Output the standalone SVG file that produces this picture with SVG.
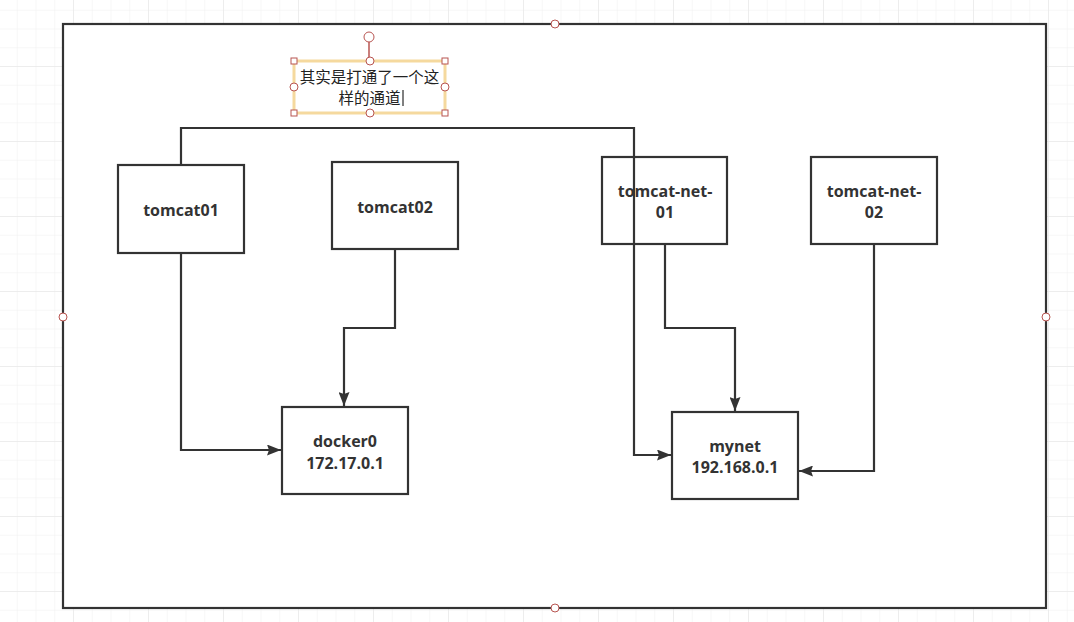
<svg xmlns="http://www.w3.org/2000/svg" width="1074" height="622" viewBox="0 0 1074 622">
<defs>
<pattern id="minor" x="-2" y="9.75" width="18.75" height="18.75" patternUnits="userSpaceOnUse">
<path d="M0 0H18.75M0 0V18.75" fill="none" stroke="#efefef" stroke-width="1"/>
</pattern>
<pattern id="major" x="-2" y="-9" width="75" height="75" patternUnits="userSpaceOnUse">
<path d="M0 0H75M0 0V75" fill="none" stroke="#e4e4e4" stroke-width="1"/>
</pattern>
<marker id="arr" viewBox="0 0 14 11" refX="14" refY="5.5" markerWidth="14" markerHeight="11" markerUnits="userSpaceOnUse" orient="auto">
<path d="M0 0L14 5.5L0 11L2 5.5Z" fill="#333"/>
</marker>
</defs>
<style>
.node rect{fill:#fff;stroke:#333;stroke-width:2.2}
.node text{font-family:"Open Sans","Noto Sans",sans-serif;font-weight:bold;font-size:16px;fill:#333;text-anchor:middle}
.conn path{fill:none;stroke:#333;stroke-width:2.2;marker-end:url(#arr)}
.h{fill:#fff;stroke:#b85450;stroke-width:1}
.cjk{font-family:"Noto Sans CJK SC",sans-serif;font-size:15.5px;fill:#222;text-anchor:middle}
</style>
<rect width="1074" height="622" fill="#fff"/>
<rect width="1074" height="622" fill="url(#minor)"/>
<rect width="1074" height="622" fill="url(#major)"/>
<g id="frame">
<rect x="63" y="24" width="983" height="584" fill="#fff" stroke="#333" stroke-width="2.2"/>
</g>
<g class="node" id="tomcat01"><rect x="118" y="165" width="126" height="88"/><text x="181" y="216">tomcat01</text></g>
<g class="node" id="tomcat02"><rect x="332" y="162" width="126" height="87"/><text x="395" y="213">tomcat02</text></g>
<g class="node" id="tomcat-net-01"><rect x="602" y="157" width="125" height="87"/><text x="665" y="197">tomcat-net-</text><text x="665" y="218">01</text></g>
<g class="node" id="tomcat-net-02"><rect x="811" y="157" width="126" height="87"/><text x="874" y="197">tomcat-net-</text><text x="874" y="218">02</text></g>
<g class="node" id="docker0"><rect x="282" y="407" width="126" height="87"/><text x="345" y="447">docker0</text><text x="345" y="469">172.17.0.1</text></g>
<g class="node" id="mynet"><rect x="672" y="412" width="126" height="87"/><text x="735" y="452">mynet</text><text x="735" y="473">192.168.0.1</text></g>
<g class="conn" id="connectors">
<path d="M181 165V128H634V455H671"/>
<path d="M181 253V450H281"/>
<path d="M395 249V328H344V406"/>
<path d="M665 244V328H735V411"/>
<path d="M874 244V471H799"/>
</g>
<g id="frame-handles">
<circle class="h" cx="555" cy="24" r="4"/>
<circle class="h" cx="63" cy="317" r="4"/>
<circle class="h" cx="1046" cy="317" r="4"/>
<circle class="h" cx="555" cy="608" r="4"/>
</g>
<g id="label">
<rect x="294" y="61" width="151" height="52" fill="none" stroke="#f5d99e" stroke-width="3"/>
<line x1="369" y1="42" x2="369" y2="61" stroke="#b85450" stroke-width="1.5"/>
<circle class="h" cx="369" cy="37" r="5" stroke-width="1.5"/>
<rect class="h" x="291" y="58" width="6" height="6"/>
<rect class="h" x="442" y="58" width="6" height="6"/>
<rect class="h" x="291" y="110" width="6" height="6"/>
<rect class="h" x="442" y="110" width="6" height="6"/>
<circle class="h" cx="370" cy="61" r="4"/>
<circle class="h" cx="370" cy="113" r="4"/>
<circle class="h" cx="294" cy="87" r="4"/>
<circle class="h" cx="445" cy="87" r="4"/>
<text class="cjk" x="369.5" y="83">其实是打通了一个这</text>
<text class="cjk" x="369.5" y="104">样的通道</text>
<line x1="403" y1="90" x2="403" y2="106" stroke="#000" stroke-width="1"/>
</g>
</svg>
